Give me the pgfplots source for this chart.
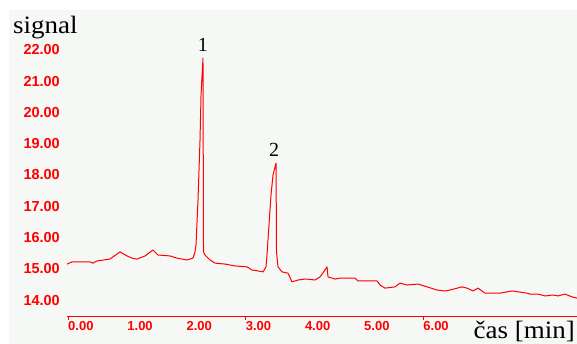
\documentclass[border=0pt]{standalone}
\usepackage{fontspec}
\setmainfont{Liberation Serif}
\newfontfamily\labfont{Liberation Sans}
\usepackage{graphicx}
\usepackage{pgfplots}
\pgfplotsset{compat=1.18}
\definecolor{bgc}{RGB}{245,248,245}
\begin{document}
\begin{tikzpicture}
\useasboundingbox (0pt,0pt) rectangle (577pt,344pt);
\fill[white] (0pt,0pt) rectangle (577pt,344pt);
\fill[bgc] (9pt,0pt) rectangle (577pt,334pt);
\begin{axis}[
  at={(67pt,27.3pt)}, anchor=south west,
  scale only axis, width=510pt, height=306.7pt,
  xmin=-0.017, xmax=8.598, ymin=13.466, ymax=23.28,
  axis x line*=bottom, axis y line*=left,
  x axis line style={red, line width=1.2pt, -},
  y axis line style={draw=none},
  xtick={0,1,2,3,4,5,6},
  xticklabels={0.00,1.00,2.00,3.00,4.00,5.00,6.00},
  ytick={14,15,16,17,18,19,20,21,22},
  yticklabels={14.00,15.00,16.00,17.00,18.00,19.00,20.00,21.00,22.00},
  major tick length=0pt,
  extra x ticks={0,3,6}, extra x tick labels={},
  extra x tick style={major tick length=3pt, tick style={red, line width=1pt}, tick align=outside},
  xticklabel style={anchor=north west, inner sep=0pt, yshift=-4.5pt, text=red, font=\labfont\bfseries\fontsize{13}{13}\selectfont},
  yticklabel style={anchor=east, inner sep=0pt, xshift=-7pt, text=red, font=\labfont\bfseries\fontsize{14.5}{14.5}\selectfont},
  clip=false,
]
\addplot[red, line width=1pt, line join=round] coordinates {
(-0.017,15.15) (0.068,15.22) (0.372,15.22) (0.422,15.18) (0.490,15.25)
(0.709,15.31) (0.878,15.54) (0.997,15.41) (1.081,15.34) (1.166,15.31)
(1.301,15.41) (1.436,15.60) (1.520,15.44) (1.723,15.41) (1.841,15.34)
(2.010,15.28) (2.111,15.34)
(2.145,15.54) (2.162,15.76) (2.196,17.20) (2.230,19.12) (2.247,20.56)
(2.280,21.74) (2.289,15.54)
(2.314,15.44) (2.399,15.28) (2.483,15.18) (2.652,15.15) (2.821,15.09)
(3.024,15.06) (3.108,14.96) (3.209,14.93) (3.294,14.90) (3.345,15.06)
(3.361,15.44) (3.395,16.40) (3.429,17.36) (3.463,18.00) (3.514,18.38)
(3.522,15.54)
(3.547,15.06) (3.615,14.90) (3.716,14.86) (3.784,14.58) (3.885,14.64)
(4.003,14.67) (4.037,14.67) (4.172,14.64) (4.257,14.74) (4.341,14.96)
(4.375,15.06) (4.392,14.74) (4.510,14.67) (4.595,14.70) (4.848,14.70)
(4.899,14.61) (5.220,14.61) (5.270,14.48) (5.355,14.38) (5.524,14.42)
(5.608,14.54) (5.726,14.48) (5.912,14.51) (6.064,14.42) (6.233,14.32)
(6.368,14.29) (6.453,14.32) (6.655,14.42) (6.740,14.38) (6.841,14.29)
(6.926,14.38) (7.044,14.22) (7.297,14.22) (7.416,14.26) (7.500,14.29)
(7.753,14.22) (7.804,14.19) (7.939,14.19) (8.057,14.13) (8.193,14.16)
(8.277,14.13) (8.395,14.19) (8.514,14.10) (8.598,14.06)
};
\node[anchor=base, inner sep=0pt, font=\fontsize{20}{20}\selectfont] at (axis cs:2.28,21.94) {1};
\node[anchor=base, inner sep=0pt, font=\fontsize{20}{20}\selectfont] at (axis cs:3.48,18.58) {2};
\end{axis}
\node[anchor=base west, inner sep=0pt, font=\fontsize{25}{25}\selectfont] at (13pt,310pt) {\scalebox{1.08}[1]{signal}};
\node[anchor=base east, inner sep=0pt, font=\fontsize{25}{25}\selectfont] at (575pt,5pt) {\scalebox{1.08}[1]{čas [min]}};
\end{tikzpicture}
\end{document}
